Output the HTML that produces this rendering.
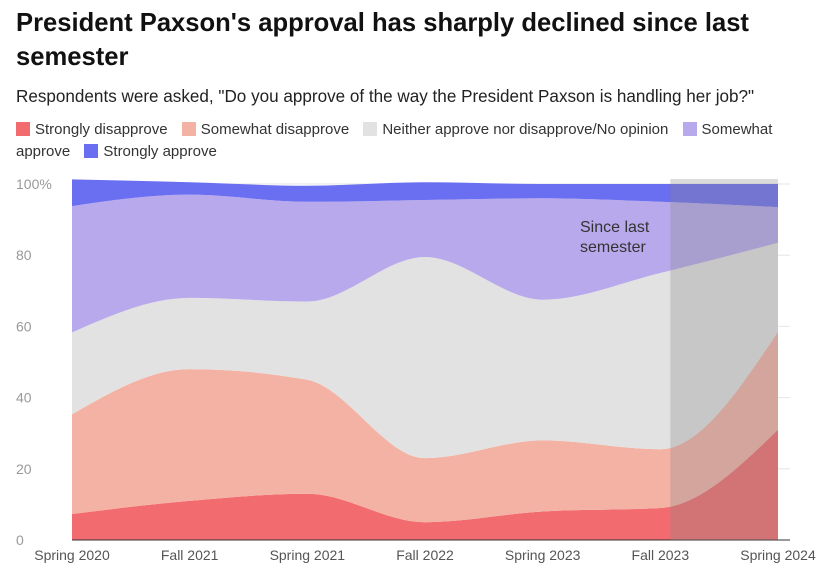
<!DOCTYPE html>
<html><head><meta charset="utf-8">
<style>
body{margin:0;background:#fff;font-family:"Liberation Sans",Arial,sans-serif;width:836px;height:581px;overflow:hidden;position:relative}
h1{position:absolute;left:16px;top:6px;margin:0;font-size:25.6px;line-height:34px;font-weight:bold;color:#111;width:800px}
.sub{position:absolute;left:16px;top:87px;font-size:17.1px;color:#222}
.legend{position:absolute;left:16px;top:119px;width:800px;font-size:15px;line-height:22px;color:#333}
.sw{display:inline-block;width:14px;height:14px;vertical-align:-2px;margin-right:5px}
.li{margin-right:10px}
</style></head><body>
<h1>President Paxson's approval has sharply declined since last semester</h1>
<div class="sub">Respondents were asked, "Do you approve of the way the President Paxson is handling her job?"</div>
<div class="legend">
<span class="li"><span class="sw" style="background:#f26b6f"></span>Strongly disapprove</span>
<span class="li"><span class="sw" style="background:#f4b2a5"></span>Somewhat disapprove</span>
<span class="li"><span class="sw" style="background:#e2e2e2"></span>Neither approve nor disapprove/No opinion</span>
<span class="li"><span class="sw" style="background:#b8a9ec"></span>Somewhat approve</span>
<span class="li"><span class="sw" style="background:#6a6ef0"></span>Strongly approve</span>
</div>
<svg id="chart" width="836" height="581" style="position:absolute;left:0;top:0"></svg>
<script>
const categories=["Spring 2020","Fall 2021","Spring 2021","Fall 2022","Spring 2023","Fall 2023","Spring 2024"];
const stronglyDisapprove=[7.3,11,13,5,8,9,31];
const somewhatDisapprove=[28,37,32,18,20,16.5,27.5];
const neither=[23,20,22,56.5,39.5,49.5,25];
const somewhatApprove=[35.5,29,28,16,28.5,20,10];
const stronglyApprove=[7.5,3.5,4.5,5,4,5,6.5];
const yTicks=[0,20,40,60,80,100];
const yTickLabels=["0","20","40","60","80","100%"];
const highlightFrom=5, highlightTo=6;

const NS="http://www.w3.org/2000/svg";
const svg=document.getElementById('chart');
const x0=72,x1=778,yb=540,yt=184;
const xs=i=>x0+(x1-x0)*i/(categories.length-1);
const ys=v=>yb-(yb-yt)*v/100;
function mk(t,a){const e=document.createElementNS(NS,t);for(const k in a)e.setAttribute(k,a[k]);svg.appendChild(e);return e;}
yTicks.forEach((t,i)=>{
 const g=mk('line',{x1:x0,x2:790,y1:ys(t),y2:ys(t),stroke:i==0?'#333':'#e6e6e6','stroke-width':1});
 
 
 const l=mk('text',{x:16,y:ys(t)+5,'font-size':14,fill:'#999','font-family':'Liberation Sans, sans-serif'});
 l.textContent=yTickLabels[i];
 
 
});
function monoPts(px,py){
 const n=px.length,m=[],d=[];
 for(let i=0;i<n-1;i++)d.push((py[i+1]-py[i])/(px[i+1]-px[i]));
 for(let i=0;i<n;i++){
  if(i==0)m.push(d[0]);else if(i==n-1)m.push(d[n-2]);
  else{ if(d[i-1]*d[i]<=0)m.push(0); else {const h0=px[i]-px[i-1],h1=px[i+1]-px[i];const p=(d[i-1]*h1+d[i]*h0)/(h0+h1);
   m.push((Math.sign(d[i-1])+Math.sign(d[i]))*Math.min(Math.abs(d[i-1]),Math.abs(d[i]),0.5*Math.abs(p)));}}
 }
 if(n>2){m[0]=(3*d[0]-m[1])/2; m[n-1]=(3*d[n-2]-m[n-2])/2;}
 let s='';
 for(let i=0;i<n-1;i++){const h=(px[i+1]-px[i])/3;
  s+=` C${px[i]+h},${py[i]+m[i]*h} ${px[i+1]-h},${py[i+1]-m[i+1]*h} ${px[i+1]},${py[i+1]}`;}
 return s;
}
const series=[[stronglyDisapprove,'#f26b6f','strongly-disapprove'],[somewhatDisapprove,'#f4b2a5','somewhat-disapprove'],[neither,'#e2e2e2','neither'],[somewhatApprove,'#b8a9ec','somewhat-approve'],[stronglyApprove,'#6a6ef0','strongly-approve']];
let base=categories.map(()=>0);
const px=categories.map((c,i)=>xs(i));
series.forEach(([vals,col,name])=>{
 const top=base.map((b,i)=>b+vals[i]);
 const ty=top.map(ys), by=base.map(ys);
 let d=`M${px[0]},${ty[0]}`+monoPts(px,ty);
 const rpx=px.slice().reverse(), rby=by.slice().reverse();
 d+=` L${rpx[0]},${rby[0]}`+monoPts(rpx.map(v=>-v),rby).replace(/(-?[\d.]+),/g,(m0,a)=>(-parseFloat(a))+',');
 d+=' Z';
 const p=mk('path',{d:d,fill:col});
 
 
 base=top;
});
mk('line',{x1:x0,x2:790,y1:yb,y2:yb,stroke:'#333'});
const hx=xs(highlightFrom)+10;
const hr=mk('rect',{x:hx,y:179,width:xs(highlightTo)-hx,height:yb-179,fill:'#888','fill-opacity':0.3});


const a1=mk('text',{x:580,y:232,'font-size':16,fill:'#333','font-family':'Liberation Sans, sans-serif'});a1.textContent='Since last';


const a2=mk('text',{x:580,y:252,'font-size':16,fill:'#333','font-family':'Liberation Sans, sans-serif'});a2.textContent='semester';


categories.forEach((c,i)=>{
 const t=mk('text',{x:xs(i),y:560,'font-size':14,fill:'#555','text-anchor':'middle','font-family':'Liberation Sans, sans-serif'});
 t.textContent=c;
 
 
});
</script>
</body></html>
